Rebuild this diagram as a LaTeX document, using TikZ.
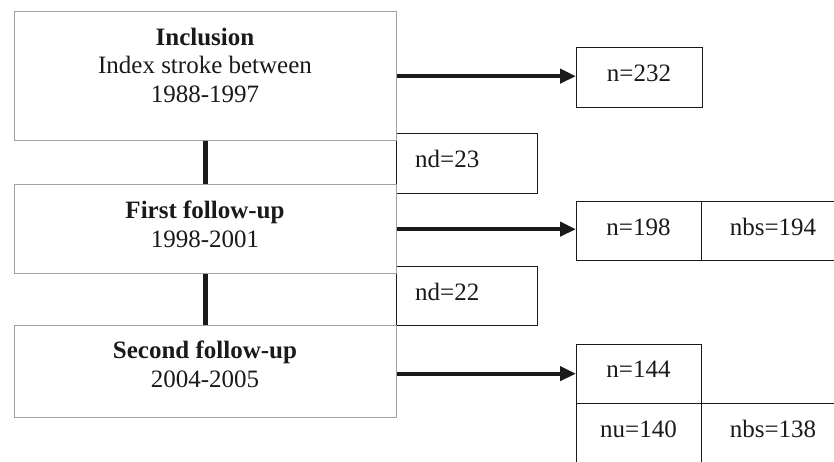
\documentclass[tikz,border=0pt]{standalone}
\usepackage{fontspec}
\setmainfont{Liberation Serif}
\usetikzlibrary{arrows.meta}
\definecolor{boxgray}{RGB}{160,160,160}
\definecolor{ink}{RGB}{26,26,26}
\begin{document}
\begin{tikzpicture}[x=1pt,y=-1pt,
  stage/.style={draw=boxgray,line width=1.3pt,minimum width=382pt,anchor=north west,inner sep=0pt},
  cell/.style={draw=ink,line width=1.3pt,anchor=north west,inner sep=0pt},
  txt/.style={font=\fontsize{25}{30}\selectfont,text=ink,inner sep=0pt,anchor=base},
  btxt/.style={txt,font=\fontsize{25}{30}\selectfont\bfseries},
  arr/.style={draw=ink,line width=4.3pt,-{Triangle[length=16pt,width=14pt]}},
  link/.style={draw=ink,line width=5pt}]
\useasboundingbox (0,0) rectangle (834,461);
\clip (0,0) rectangle (834,461);
\fill[white] (0,0) rectangle (834,461);
% dropout boxes
\node[cell,minimum width=141pt,minimum height=60pt] (nd1) at (396,133) {};
\node[txt,anchor=base west] (nd1t) at (415,167) {nd=23};
\node[cell,minimum width=141pt,minimum height=59pt] (nd2) at (396,266) {};
\node[txt,anchor=base west] (nd2t) at (415,300) {nd=22};
% stage boxes
\node[stage,minimum height=129pt] (incl) at (14,11) {};
\node[stage,minimum height=89pt] (first) at (14,184) {};
\node[stage,minimum height=92pt] (second) at (14,325) {};
\node[btxt] (inclA) at (205,45) {Inclusion};
\node[txt] (inclB) at (205,73) {Index stroke between};
\node[txt] (inclC) at (205,102) {1988-1997};
\node[btxt] (firstA) at (205,218) {First follow-up};
\node[txt] (firstB) at (205,247) {1998-2001};
\node[btxt] (secondA) at (205,358) {Second follow-up};
\node[txt] (secondB) at (205,387) {2004-2005};
% count boxes
\node[cell,minimum width=126pt,minimum height=60pt] (n232) at (576,47) {};
\node[txt] (n232t) at (639,81) {n=232};
\node[cell,minimum width=125pt,minimum height=59pt] (n198) at (576,201) {};
\node[txt] (n198t) at (638.5,235) {n=198};
\node[cell,minimum width=144pt,minimum height=59pt] (nbs194) at (701,201) {};
\node[txt] (nbs194t) at (773,235) {nbs=194};
\node[cell,minimum width=125pt,minimum height=59pt] (n144) at (576,344) {};
\node[txt] (n144t) at (638.5,377) {n=144};
\node[cell,minimum width=125pt,minimum height=60pt] (nu140) at (576,403) {};
\node[txt] (nu140t) at (638.5,437) {nu=140};
\node[cell,minimum width=144pt,minimum height=60pt] (nbs138) at (701,403) {};
\node[txt] (nbs138t) at (773,437) {nbs=138};
% connectors
\draw[link] (incl.south) -- (first.north);
\draw[link] (first.south) -- (second.north);
\draw[arr] (incl.east) -- (incl.east -| n232.west);
\draw[arr] (first.east) -- (first.east -| n198.west);
\draw[arr] ([yshift=-2pt]second.east) -- ([yshift=-2pt]second.east -| n144.west);
\end{tikzpicture}
\end{document}
